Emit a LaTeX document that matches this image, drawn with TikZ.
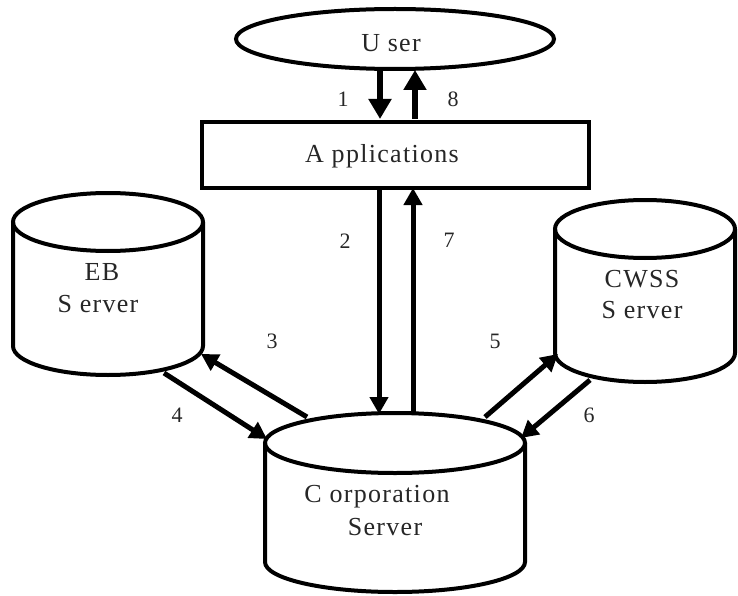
\documentclass[tikz,border=0pt]{standalone}
\usepackage{fontspec}
\setmainfont{Liberation Serif}
\newfontfamily\spacedserif[LetterSpace=5]{Liberation Serif}
\usetikzlibrary{arrows.meta}

% Database cylinder: centre x, top-rim y, bottom-rim y, x radius, y radius
\newcommand\dbcylinder[5]{%
  \draw[outline] (#1,#2) ellipse [x radius=#4pt, y radius=#5pt];
  \draw[outline] ({#1-#4},#2) -- ({#1-#4},#3)
    .. controls ({#1-#4},{#3+0.5523*#5}) and ({#1-0.5523*#4},{#3+#5}) .. (#1,{#3+#5})
    .. controls ({#1+0.5523*#4},{#3+#5}) and ({#1+#4},{#3+0.5523*#5}) .. ({#1+#4},#3)
    -- ({#1+#4},#2);
}

\tikzset{
  outline/.style={line width=4pt, draw=black},
  txt/.style={font=\spacedserif\fontsize{26}{32}\selectfont, inner sep=0pt, anchor=base, text=black!85},
  num/.style={font=\fontsize{22}{26}\selectfont, inner sep=0pt, anchor=base, text=black!85},
  flow/.style={line width=6pt, -{Triangle[length=20pt,width=22pt]}},
  flowthin/.style={line width=5pt, -{Triangle[length=17pt,width=18pt]}},
}

\begin{document}
\begin{tikzpicture}[x=1pt,y=-1pt]
\useasboundingbox (0,0) rectangle (738,596);

% user and application layer
\draw[outline] (395,39) ellipse [x radius=159pt, y radius=30pt];
\node[txt] (user) at (391,52) {U ser};
\draw[outline] (202,122) rectangle (589,188);
\node[txt] (apps) at (382,163) {A pplications};

% servers
\dbcylinder{108}{222}{346}{95}{29}
\node[txt] (eb) at (102,280) {EB};
\node[txt] (eb2) at (98,312) {S erver};
\dbcylinder{645}{229}{353}{90}{29}
\node[txt] (cwss) at (642,287) {CWSS};
\node[txt] (cwss2) at (642,318) {S erver};
\dbcylinder{395}{443}{562}{130}{30}
\node[txt] (corp) at (377,502) {C orporation};
\node[txt] (corp2) at (385,535) {Server};

% connector end points
\coordinate (u-down-a) at (380,70);
\coordinate (u-down-b) at (380,119);
\coordinate (u-up-a) at (415,119);
\coordinate (u-up-b) at (415,70);
\coordinate (a-down-a) at (379,188);
\coordinate (a-down-b) at (379,414);
\coordinate (a-up-a) at (413,414);
\coordinate (a-up-b) at (413,188);
\coordinate (c-eb-a) at (307,417);
\coordinate (c-eb-b) at (201,354);
\coordinate (eb-c-a) at (164,373);
\coordinate (eb-c-b) at (267,439);
\coordinate (c-cw-a) at (485,417);
\coordinate (c-cw-b) at (558,354);
\coordinate (cw-c-a) at (590,380);
\coordinate (cw-c-b) at (521,438);

% message flows
\draw[flow] (u-down-a) -- (u-down-b);
\draw[flow] (u-up-a) -- (u-up-b);
\draw[flowthin] (a-down-a) -- (a-down-b);
\draw[flowthin] (a-up-a) -- (a-up-b);
\draw[flowthin] (c-eb-a) -- (c-eb-b);
\draw[flowthin] (eb-c-a) -- (eb-c-b);
\draw[flowthin] (c-cw-a) -- (c-cw-b);
\draw[flowthin] (cw-c-a) -- (cw-c-b);

% step numbers
\node[num] (n1) at (343,107) {1};
\node[num] (n8) at (453,107) {8};
\node[num] (n2) at (345,248) {2};
\node[num] (n7) at (449,247) {7};
\node[num] (n3) at (272,348) {3};
\node[num] (n4) at (177,422) {4};
\node[num] (n5) at (495,348) {5};
\node[num] (n6) at (589,422) {6};
\end{tikzpicture}
\end{document}
